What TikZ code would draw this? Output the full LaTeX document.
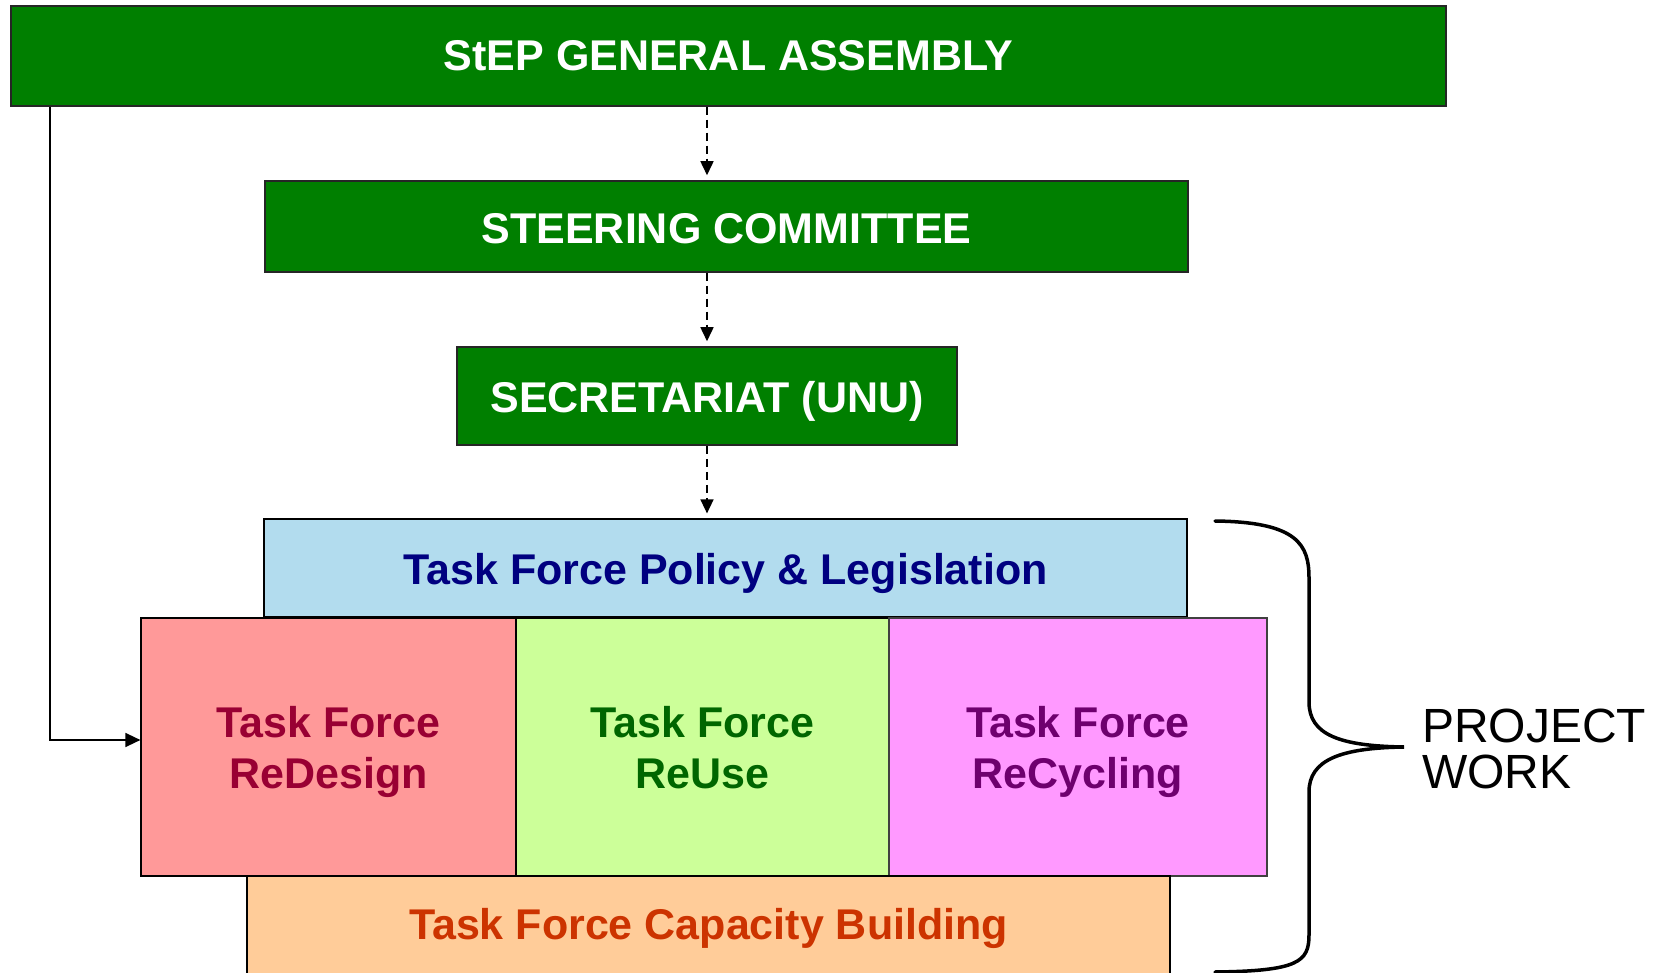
\documentclass[tikz,border=0pt]{standalone}
\usepackage{fontspec}
\setmainfont{Liberation Sans}
\usetikzlibrary{arrows.meta,calc}
\definecolor{stepgreen}{HTML}{007F00}
\definecolor{policyfill}{HTML}{B2DCEE}
\definecolor{policytext}{HTML}{000080}
\definecolor{designfill}{HTML}{FF9999}
\definecolor{designtext}{HTML}{990033}
\definecolor{reusefill}{HTML}{CCFF99}
\definecolor{reusetext}{HTML}{006600}
\definecolor{cyclefill}{HTML}{FF99FF}
\definecolor{cycletext}{HTML}{6E006E}
\definecolor{capfill}{HTML}{FFCC99}
\definecolor{captext}{HTML}{CC3300}
\newcommand{\tfstrut}{\rule{0pt}{0.97em}}
\newcommand{\tfdepth}{\rule[-0.21em]{0pt}{0.21em}}
\tikzset{
  greenbox/.style={draw=black!85,line width=1.5pt,fill=stepgreen,text=white,
    inner sep=0pt,font=\fontsize{43}{51}\selectfont\bfseries},
  taskbox/.style={draw=black,line width=1.2pt,inner sep=0pt,align=center,
    font=\fontsize{43}{51}\selectfont\bfseries},
  dasharrow/.style={line width=1.5pt,dash pattern=on 8pt off 5pt,
    -{Triangle[length=14pt,width=13pt]},shorten >=5pt},
  solidarrow/.style={line width=1.5pt,-{Triangle[length=15pt,width=14pt]}},
  brace/.style={line width=3.5pt,line cap=round}
}
\begin{document}
\begin{tikzpicture}[x=1pt,y=-1pt]
  \useasboundingbox (0,0) rectangle (1660,973);
  % governing bodies
  \begin{scope}
    \node[greenbox,minimum width=1435,minimum height=100] (ga) at (728.5,56) {StEP GENERAL ASSEMBLY};
    \node[greenbox,minimum width=923,minimum height=91] (sc) at (726.5,226.5) {\rule{0pt}{0.82em}STEERING COMMITTEE};
    \node[greenbox,minimum width=500,minimum height=98] (sec) at (707,396) {\tfstrut SECRETARIAT (UNU)};
  \end{scope}
  % task forces
  \begin{scope}
    \node[taskbox,fill=policyfill,text=policytext,minimum width=923,minimum height=98] (pol) at (725.5,568) {\tfstrut Task Force Policy \& Legislation};
    \node[taskbox,fill=designfill,text=designtext,minimum width=375,minimum height=258] (des) at (328.5,747) {\tfstrut Task Force\\ReDesign};
    \node[taskbox,fill=reusefill,text=reusetext,minimum width=373,minimum height=258] (reu) at (702.5,747) {\tfstrut Task Force\\ReUse\tfdepth};
    \node[taskbox,fill=cyclefill,text=cycletext,draw=black!75,minimum width=378,minimum height=258] (cyc) at (1078,747) {\tfstrut Task Force\\ReCycling};
    \node[taskbox,fill=capfill,text=captext,minimum width=923,minimum height=100] (cap) at (708.5,926) {\rule{0pt}{0.85em}Task Force Capacity Building};
  \end{scope}
  \draw[dasharrow] (ga.south -| sec) -- (sc.north -| sec);
  \draw[dasharrow] (sc.south -| sec) -- (sec.north);
  \draw[dasharrow] (sec.south) -- (pol.north -| sec);
  \coordinate (left) at (50,0);
  \draw[solidarrow] (ga.south -| left) |- ([yshift=7pt]des.west);
  % brace
  \draw[brace] (1215,521) .. controls (1298,522) and (1309,545) .. (1309,578) -- (1309,702)
    .. controls (1309,735) and (1340,746) .. (1404,747)
    .. controls (1340,748) and (1309,760) .. (1309,792) -- (1309,935)
    .. controls (1309,962) and (1298,971) .. (1215,972);
  \node[anchor=west,inner sep=0pt,align=left,font=\fontsize{48}{46}\selectfont] (pw) at (1422,749) {PROJECT\\WORK};
\end{tikzpicture}
\end{document}
